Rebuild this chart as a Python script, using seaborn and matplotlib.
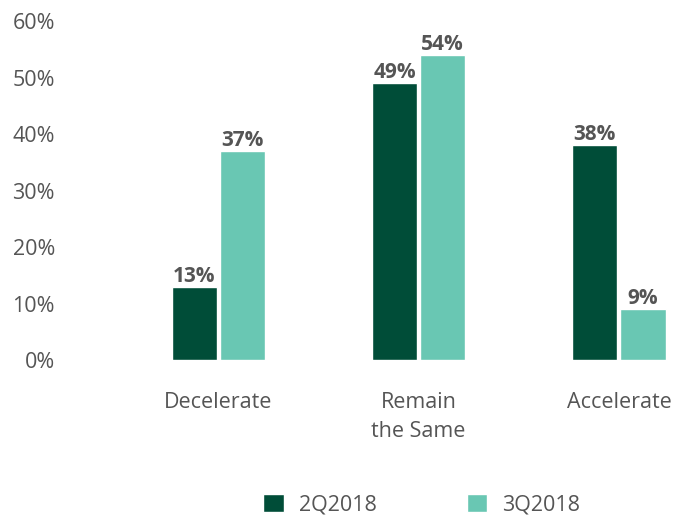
import matplotlib
matplotlib.use("Agg")
import matplotlib.pyplot as plt
import seaborn as sns
import pandas as pd
from matplotlib.patches import Patch

categories = ["Decelerate", "Remain\nthe Same", "Accelerate"]
series_names = ["2Q2018", "3Q2018"]
values_2q = [13, 49, 38]
values_3q = [37, 54, 9]
y_ticks = [0, 10, 20, 30, 40, 50, 60]

df = pd.DataFrame({
    "category": categories * 2,
    "series": [series_names[0]] * 3 + [series_names[1]] * 3,
    "value": values_2q + values_3q,
})

sns.set_theme(style="white")
plt.rcParams["font.family"] = ["Open Sans", "DejaVu Sans"]

dark = "#004D38"
light = "#69C7B3"
txt = "#555555"
fs = 15.5

fig = plt.figure(figsize=(6.75, 5.16), dpi=100)
ax = fig.add_axes([66 / 675, 156 / 516, 609 / 675, (360 - 21) / 516])

sns.barplot(data=df, x="category", y="value", hue="series", order=categories,
            hue_order=series_names, palette=[dark, light], width=0.48, gap=0.06,
            ax=ax, legend=False, saturation=1)

for cont in ax.containers:
    ax.bar_label(cont, labels=[f"{v:.0f}%" for v in cont.datavalues],
                 padding=0, fontsize=15, fontweight="bold", color=txt)

ax.set_ylim(0, 60)
ax.set_xlim(-0.76, 2.28)
ax.set_yticks(y_ticks)
ax.set_yticklabels([f"{t}%" for t in y_ticks], fontsize=fs, color=txt)
ax.tick_params(axis="x", labelsize=fs, labelcolor=txt, pad=23, length=0)
ax.tick_params(axis="y", length=0, pad=8)
for lbl in ax.get_xticklabels():
    lbl.set_linespacing(1.5)
ax.set_xlabel("")
ax.set_ylabel("")
for s in ax.spines.values():
    s.set_visible(False)

handles = [Patch(facecolor=dark, label=series_names[0]),
           Patch(facecolor=light, label=series_names[1])]
fig.legend(handles=handles, loc="center", bbox_to_anchor=(0.625, 0.022), ncol=2,
           frameon=False, fontsize=fs, labelcolor=txt, handlelength=0.95,
           handleheight=0.95, columnspacing=4.2, handletextpad=0.7)

fig.savefig("out.png", dpi=100)
